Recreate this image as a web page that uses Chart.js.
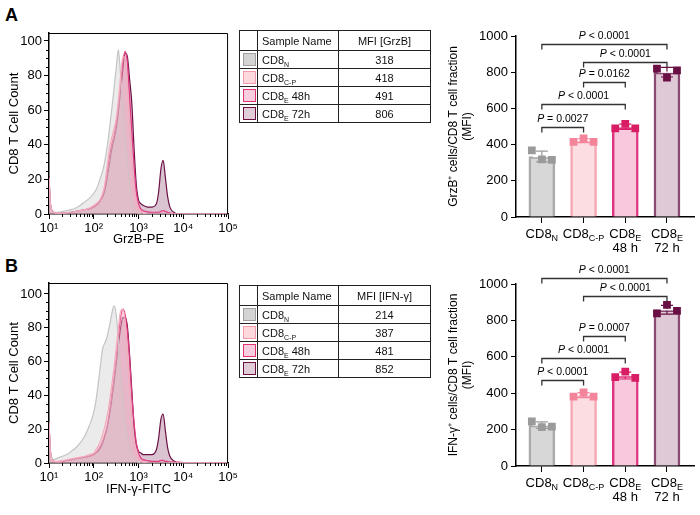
<!DOCTYPE html>
<html>
<head>
<meta charset="utf-8">
<script src="https://cdn.jsdelivr.net/npm/chart.js@4/dist/chart.umd.min.js"></script>
<style>
body{margin:0;width:700px;height:515px;position:relative;background:#fff;font-family:"Liberation Sans",Arial,sans-serif;overflow:hidden}
canvas{position:absolute}
.lab{position:absolute;left:5px;font-weight:bold;font-size:18px;color:#000}
table{position:absolute;border-collapse:collapse;font-size:11px;color:#111;width:191px;table-layout:fixed}
td,th{border:1px solid #222;padding:0;font-weight:normal;white-space:nowrap}
th{height:19px}
td{height:17px}
.c2{text-align:left;padding-left:4px}
.c3{text-align:center}
.sw{display:inline-block;width:11px;height:11px;border:1px solid #999;vertical-align:middle;margin-left:3px}
sub{font-size:7px;vertical-align:-3px;line-height:0}
</style>
</head>
<body>
<div class="lab" style="top:5px">A</div>
<div class="lab" style="top:256px">B</div>
<canvas id="histA" width="240" height="250" style="left:0;top:0"></canvas>
<canvas id="histB" width="240" height="250" style="left:0;top:250px"></canvas>
<canvas id="barA" width="260" height="260" style="left:440px;top:0"></canvas>
<canvas id="barB" width="260" height="257" style="left:440px;top:258px"></canvas>
<table id="tabA" style="left:239px;top:30px"></table>
<table id="tabB" style="left:239px;top:285px"></table>
<script>
// samples
var sampleBase = ["CD8", "CD8", "CD8", "CD8"];
var sampleSub = ["N", "C-P", "E", "E"];
var sampleTime = ["", "", "48h", "72h"];
var barLine2 = ["", "", "48 h", "72 h"];
var mfiGrzB = [318, 418, 491, 806];
var mfiIFN = [214, 387, 481, 852];

// histogram x positions (log10 of fluorescence)
var logX = [1.0, 1.03, 1.1, 1.2, 1.3, 1.4, 1.5, 1.6, 1.7, 1.8, 1.9,
  2.0, 2.05, 2.1, 2.15, 2.2, 2.25, 2.3, 2.35, 2.4, 2.45, 2.5, 2.55, 2.6, 2.65, 2.7, 2.75, 2.8, 2.85, 2.9, 2.95, 3.0, 3.05, 3.1,
  3.2, 3.3, 3.4, 3.45, 3.5, 3.55, 3.6, 3.65, 3.7, 3.8, 3.9, 4.0, 4.5, 5.0];

var grzN = [21, 6, 1, 1, 1.5, 2, 2.5, 3.5, 5, 7, 9,
  12, 14, 17, 21, 25, 31, 39, 49, 60, 72, 84, 95, 80, 62, 45, 30, 17, 8, 3, 1, 0.5, 0, 0,
  0, 0, 0, 0, 0, 0, 0, 0, 0, 0, 0, 0, 0, 0];
var grzCP = [21, 6, 1, 0.5, 0.5, 0.8, 1, 1.5, 2, 2.5, 3.5,
  5, 6, 7, 9, 12, 18, 28, 38, 44, 49, 55, 66, 80, 91, 90, 74, 48, 28, 14, 6, 3, 1.5, 0.5,
  0, 0, 0, 0, 0, 0, 0, 0, 0, 0, 0, 0, 0, 0];
var grz48 = [21, 6, 1, 0.5, 0.5, 0.8, 1, 1.5, 2, 2.5, 3,
  4, 5, 6, 8, 11, 16, 24, 33, 40, 45, 52, 62, 75, 88, 94, 88, 68, 48, 28, 13, 6, 3, 2,
  1.2, 1, 1, 1, 1.5, 2, 1.5, 1, 0.5, 0.2, 0, 0, 0, 0];
var grz72 = [22, 6, 1, 0.5, 0.5, 0.8, 1, 1.5, 2, 2.5, 3,
  4, 5, 6, 8, 10, 14, 21, 29, 37, 43, 49, 59, 71, 84, 93, 91, 78, 64, 38, 17, 8, 6, 5,
  4, 4, 6, 13, 26, 31, 21, 10, 4, 0.8, 0, 0, 0, 0];

var ifnN = [24, 7, 2, 3, 4, 5, 7, 9, 12, 16, 22,
  30, 37, 47, 58, 68, 71, 75, 81, 88, 93, 88, 72, 52, 36, 24, 15, 9, 5, 3, 1.5, 0.5, 0, 0,
  0, 0, 0, 0, 0, 0, 0, 0, 0, 0, 0, 0, 0, 0];
var ifnCP = [24, 7, 1, 1, 1.5, 2, 2.5, 3, 3.5, 4, 5,
  6, 8, 10, 13, 17, 22, 28, 36, 46, 56, 68, 80, 90, 91, 84, 64, 44, 24, 12, 6, 3, 1.5, 0.5,
  0, 0, 0, 0, 0, 0, 0, 0, 0, 0, 0, 0, 0, 0];
var ifn48 = [24, 7, 1, 0.5, 1, 1.5, 2, 2.5, 3, 3.5, 4,
  5, 6, 8, 10, 13, 17, 22, 30, 40, 50, 62, 75, 86, 91, 88, 78, 62, 40, 24, 12, 6, 3, 2,
  1.5, 1, 1, 1, 1.5, 1.5, 1, 1, 0.5, 0.5, 0.5, 0.3, 0.3, 0.3];
var ifn72 = [24, 7, 1, 0.5, 1, 1.5, 2, 2.5, 3, 3.5, 4,
  5, 6, 7, 9, 12, 16, 21, 28, 37, 47, 58, 70, 80, 86, 86, 81, 64, 43, 22, 11, 7, 6, 5,
  5, 5, 8, 15, 26, 29, 19, 9, 4, 1, 0, 0, 0, 0];

var histYTicks = [0, 20, 40, 60, 80, 100];
var histXTicks = [1, 2, 3, 4, 5];

// bar chart replicates
var grzPts = [[368, 318, 316], [415, 434, 415], [490, 515, 490], [820, 770, 810]];
var ifnPts = [[245, 213, 216], [381, 405, 381], [488, 518, 484], [838, 885, 852]];
var barYTicks = [0, 200, 400, 600, 800, 1000];

// comparisons: [from, to], p text, bracket height (MFI units)
var grzPairs = [[0, 1], [0, 2], [1, 2], [1, 3], [0, 3]];
var grzP = ["= 0.0027", "< 0.0001", "= 0.0162", "< 0.0001", "< 0.0001"];
var grzBracketY = [500, 622, 745, 855, 958];
var ifnPairs = [[0, 1], [0, 2], [1, 2], [1, 3], [0, 3]];
var ifnP = ["< 0.0001", "< 0.0001", "= 0.0007", "< 0.0001", "< 0.0001"];
var ifnBracketY = [473, 593, 717, 936, 1033];

var lineCol = ["#c4c4c4", "#f5adbd", "#e43a80", "#6b1245"];
var fillCol = ["rgba(205,205,205,0.4)", "rgba(250,185,200,0.3)", "rgba(240,140,180,0.25)", "rgba(110,20,70,0.25)"];
var drawOrder = [2, 1, 3, 4];
var swFill = ["#d3d3d3", "#fdd9de", "#f9cde0", "#e0cdd8"];
var swEdge = ["#a0a0a0", "#f39aab", "#e0336f", "#6c1040"];
var barFill = ["#d7d7d7", "#fcdde1", "#f8c8dc", "#dfc9d6"];
var barEdge = ["#aaaaaa", "#f6a7b4", "#e0357f", "#8a4a72"];
var ptCol = ["#9a9a9a", "#f4849a", "#d81d64", "#6a0f44"];

var FONT = '"Liberation Sans", Arial, sans-serif';
var sup = {1: "\u00b9", 2: "\u00b2", 3: "\u00b3", 4: "\u2074", 5: "\u2075"};

function buildTable(id, head, vals) {
  var t = document.getElementById(id);
  var h = '<colgroup><col style="width:18px"><col style="width:81px"><col style="width:92px"></colgroup>';
  h += '<tr><th></th><th class="c2">Sample Name</th><th class="c3">' + head + '</th></tr>';
  for (var i = 0; i < vals.length; i++) {
    h += '<tr><td><span class="sw" style="background:' + swFill[i] + ';border-color:' + swEdge[i] + '"></span></td>' +
      '<td class="c2">' + sampleBase[i] + '<sub>' + sampleSub[i] + '</sub>' + (sampleTime[i] ? ' ' + sampleTime[i] : '') + '</td>' +
      '<td class="c3">' + vals[i] + '</td></tr>';
  }
  t.innerHTML = h;
}
buildTable("tabA", "MFI [GrzB]", mfiGrzB);
buildTable("tabB", "MFI [IFN-\u03b3]", mfiIFN);

var histDeco = {
  id: "histDeco",
  afterDraw: function(chart) {
    var ctx = chart.ctx, a = chart.chartArea, x = chart.scales.x, y = chart.scales.y;
    ctx.save();
    ctx.strokeStyle = "#000";
    ctx.lineWidth = 1;
    ctx.beginPath();
    ctx.moveTo(a.left, a.top + 0.5);
    ctx.lineTo(a.right - 0.5, a.top + 0.5);
    ctx.lineTo(a.right - 0.5, a.bottom);
    for (var v = 5; v < 100; v += 5) {
      if (v % 20 === 0) continue;
      var py = Math.round(y.getPixelForValue(v)) + 0.5;
      ctx.moveTo(a.left - 3, py);
      ctx.lineTo(a.left, py);
    }
    for (var d = 1; d < 5; d++) {
      for (var k = 2; k < 10; k++) {
        var px = Math.round(x.getPixelForValue(d + Math.log10(k))) + 0.5;
        ctx.moveTo(px, a.bottom);
        ctx.lineTo(px, a.bottom + 3);
      }
    }
    ctx.stroke();
    ctx.restore();
  }
};

function histChart(id, series, xTitle, yMax, xH) {
  return new Chart(document.getElementById(id), {
    type: "line",
    data: {
      datasets: series.map(function(s, i) {
        return {
          data: logX.map(function(lx, j) { return {x: lx, y: s[j]}; }),
          borderColor: lineCol[i],
          backgroundColor: fillCol[i],
          fill: "origin",
          borderWidth: 1.2,
          pointRadius: 0,
          cubicInterpolationMode: "monotone",
          order: drawOrder[i]
        };
      })
    },
    options: {
      responsive: false,
      animation: false,
      layout: {padding: {top: 33, right: 9}},
      plugins: {legend: {display: false}, tooltip: {enabled: false}},
      scales: {
        x: {
          type: "linear", min: 1, max: 5,
          afterBuildTicks: function(s) { s.ticks = histXTicks.map(function(v) { return {value: v}; }); },
          ticks: {callback: function(v) { return "10" + sup[v]; }, font: {size: 13, family: FONT}, color: "#000", padding: 2, maxRotation: 0},
          grid: {drawOnChartArea: false, color: "#000", tickLength: 5},
          border: {color: "#000", width: 1.5},
          title: {display: true, text: xTitle, font: {size: 13, family: FONT}, color: "#000", padding: {top: 0, bottom: 3}},
          afterFit: function(s) { s.height = xH; }
        },
        y: {
          min: 0, max: yMax,
          afterBuildTicks: function(s) { s.ticks = histYTicks.map(function(v) { return {value: v}; }); },
          ticks: {font: {size: 13, family: FONT}, color: "#000", padding: 2},
          grid: {drawOnChartArea: false, color: "#000", tickLength: 5},
          border: {color: "#000", width: 1.5},
          title: {display: true, text: "CD8 T Cell Count", font: {size: 13, family: FONT}, color: "#000", padding: {top: 7, bottom: 0}},
          afterFit: function(s) { s.width = 49; }
        }
      }
    },
    plugins: [histDeco]
  });
}

histChart("histA", [grzN, grzCP, grz48, grz72], "GrzB-PE", 104.6, 36);
histChart("histB", [ifnN, ifnCP, ifn48, ifn72], "IFN-\u03b3-FITC", 106.5, 37);

function mean(a) { return a.reduce(function(s, v) { return s + v; }, 0) / a.length; }
function sd(a) {
  var m = mean(a);
  return Math.sqrt(a.reduce(function(s, v) { return s + (v - m) * (v - m); }, 0) / (a.length - 1));
}

function barChart(id, pts, pairs, ptxt, by, yTitle, padTop, xH) {
  var jitter = [-0.24, 0, 0.24];
  var scatter = [], scol = [];
  pts.forEach(function(g, i) {
    g.forEach(function(v, j) { scatter.push({x: i + jitter[j], y: v}); scol.push(ptCol[i]); });
  });

  var deco = {
    id: "barDeco",
    afterDatasetDraw: function(chart, args) {
      if (args.index !== 0) return;
      var ctx = chart.ctx, x = chart.scales.x, y = chart.scales.y;
      ctx.save();
      pts.forEach(function(g, i) {
        var cx = x.getPixelForValue(i), m = mean(g), s = sd(g);
        var top = y.getPixelForValue(m + s), bot = y.getPixelForValue(m - s), my = y.getPixelForValue(m);
        ctx.strokeStyle = ptCol[i];
        ctx.lineWidth = 1.2;
        ctx.beginPath();
        ctx.moveTo(cx, top); ctx.lineTo(cx, bot);
        ctx.moveTo(cx - 6, top); ctx.lineTo(cx + 6, top);
        ctx.moveTo(cx - 6, bot); ctx.lineTo(cx + 6, bot);
        ctx.stroke();
        ctx.strokeStyle = "#fff";
        ctx.lineWidth = 1.3;
        ctx.beginPath();
        ctx.moveTo(cx - 9, my); ctx.lineTo(cx + 9, my);
        ctx.stroke();
      });
      ctx.restore();
    },
    afterDraw: function(chart) {
      var ctx = chart.ctx, x = chart.scales.x, y = chart.scales.y, a = chart.chartArea;
      ctx.save();
      // category labels
      ctx.fillStyle = "#000";
      ctx.textBaseline = "alphabetic";
      for (var i = 0; i < sampleBase.length; i++) {
        var cx = x.getPixelForValue(i);
        ctx.font = "13px " + FONT;
        var w1 = ctx.measureText(sampleBase[i]).width;
        ctx.font = "9px " + FONT;
        var w2 = ctx.measureText(sampleSub[i]).width;
        var sx = cx - (w1 + w2) / 2;
        ctx.font = "13px " + FONT;
        ctx.textAlign = "left";
        ctx.fillText(sampleBase[i], sx, a.bottom + 21);
        ctx.font = "9px " + FONT;
        ctx.fillText(sampleSub[i], sx + w1, a.bottom + 24);
        if (barLine2[i]) {
          ctx.font = "13px " + FONT;
          ctx.textAlign = "center";
          ctx.fillText(barLine2[i], cx, a.bottom + 34.5);
        }
      }
      // significance brackets
      ctx.strokeStyle = "#333";
      ctx.lineWidth = 1.3;
      pairs.forEach(function(p, k) {
        var x1 = x.getPixelForValue(p[0]), x2 = x.getPixelForValue(p[1]);
        var yy = Math.round(y.getPixelForValue(by[k])) + 0.5;
        ctx.beginPath();
        ctx.moveTo(x1, yy + 5); ctx.lineTo(x1, yy); ctx.lineTo(x2, yy); ctx.lineTo(x2, yy + 5);
        ctx.stroke();
        ctx.font = "italic 10.5px " + FONT;
        var wp = ctx.measureText("P ").width;
        ctx.font = "10.5px " + FONT;
        var wt = ctx.measureText(ptxt[k]).width;
        var sx = (x1 + x2) / 2 - (wp + wt) / 2;
        ctx.textAlign = "left";
        ctx.textBaseline = "middle";
        ctx.font = "italic 10.5px " + FONT;
        ctx.fillText("P", sx, yy - 8.5);
        ctx.font = "10.5px " + FONT;
        ctx.fillText(ptxt[k], sx + wp, yy - 8.5);
      });
      ctx.restore();
    }
  };

  return new Chart(document.getElementById(id), {
    data: {
      datasets: [
        {
          type: "bar",
          data: pts.map(function(g, i) { return {x: i, y: mean(g)}; }),
          backgroundColor: barFill,
          borderColor: barEdge,
          borderWidth: 2.5,
          barThickness: 26,
          order: 2
        },
        {
          type: "scatter",
          data: scatter,
          pointStyle: "rect",
          pointRadius: 5.5,
          backgroundColor: scol,
          borderWidth: 0,
          order: 1
        }
      ]
    },
    options: {
      responsive: false,
      animation: false,
      layout: {padding: {top: padTop, right: 2}},
      plugins: {legend: {display: false}, tooltip: {enabled: false}},
      scales: {
        x: {
          type: "linear", min: -0.62, max: 3.66, offset: false,
          afterBuildTicks: function(s) { s.ticks = [0, 1, 2, 3].map(function(v) { return {value: v}; }); },
          ticks: {display: false},
          grid: {drawOnChartArea: false, offset: false, color: "#000", tickLength: 6},
          border: {color: "#000", width: 1.5},
          afterFit: function(s) { s.height = xH; }
        },
        y: {
          min: 0, max: 1000,
          afterBuildTicks: function(s) { s.ticks = barYTicks.map(function(v) { return {value: v}; }); },
          ticks: {callback: function(v) { return String(v); }, font: {size: 13, family: FONT}, color: "#000", padding: 3},
          grid: {drawOnChartArea: false, color: "#000", tickLength: 5},
          border: {color: "#000", width: 1.5},
          title: {display: true, text: yTitle, font: {size: 12, family: FONT}, color: "#000", padding: {top: 6, bottom: 0}},
          afterFit: function(s) { s.width = 76; }
        }
      }
    },
    plugins: [deco]
  });
}

barChart("barA", grzPts, grzPairs, grzP, grzBracketY, ["GrzB\u207a cells/CD8 T cell fraction", "(MFI)"], 36, 43);
barChart("barB", ifnPts, ifnPairs, ifnP, ifnBracketY, ["IFN-\u03b3\u207a cells/CD8 T cell fraction", "(MFI)"], 26, 49);
</script>
</body>
</html>
